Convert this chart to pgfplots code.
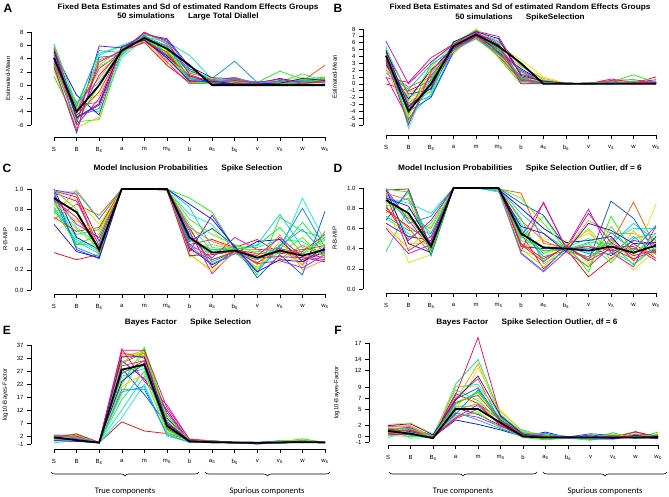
\documentclass[border=0pt]{standalone}
\usepackage{fontspec}
\setmainfont{Liberation Sans}
\newfontfamily\carlito{Carlito}
\usepackage{pgfplots}
\pgfplotsset{compat=1.18}
\usepackage{pgfplotstable}
\usetikzlibrary{decorations.pathreplacing}

% rainbow palette for the simulation runs
\definecolor{col1}{Hsb}{0,0.95,0.95}
\definecolor{col2}{Hsb}{20,0.95,0.95}
\definecolor{col3}{Hsb}{40,0.95,0.95}
\definecolor{col4}{Hsb}{55,0.95,0.95}
\definecolor{col5}{Hsb}{70,0.95,0.95}
\definecolor{col6}{Hsb}{90,0.95,0.95}
\definecolor{col7}{Hsb}{115,0.95,0.95}
\definecolor{col8}{Hsb}{140,0.95,0.95}
\definecolor{col9}{Hsb}{160,0.95,0.95}
\definecolor{col10}{Hsb}{175,0.95,0.95}
\definecolor{col11}{Hsb}{190,0.95,0.95}
\definecolor{col12}{Hsb}{205,0.95,0.95}
\definecolor{col13}{Hsb}{220,0.95,0.95}
\definecolor{col14}{Hsb}{240,0.95,0.95}
\definecolor{col15}{Hsb}{265,0.95,0.95}
\definecolor{col16}{Hsb}{290,0.95,0.95}
\definecolor{col17}{Hsb}{315,0.95,0.95}
\definecolor{col18}{Hsb}{340,0.95,0.95}
\definecolor{col19}{Hsb}{10,0.95,0.95}
\definecolor{col20}{Hsb}{30,0.95,0.95}
\definecolor{col21}{Hsb}{48,0.95,0.95}
\definecolor{col22}{Hsb}{100,0.95,0.95}
\definecolor{col23}{Hsb}{128,0.95,0.95}
\definecolor{col24}{Hsb}{198,0.95,0.95}
\definecolor{col25}{Hsb}{250,0.95,0.95}
\definecolor{col26}{Hsb}{328,0.95,0.95}

\pgfplotstableread{
x c1 c2 c3 c4 c5 c6 c7 c8 c9 c10 c11 c12 c13 c14 c15 c16 c17 c18 mean c19 c20 c21 c22 c23 c24 c25 c26
0  5.3 4.5 3.0 2.5 3.5 4.0 1.3 6.2 4.8 5.5 3.8 4.2 2.8 5.0 3.3 5.8 4.6 5.6 4.1 3.6 4.9 2.2 5.9 3.1 4.4 5.1 2.7
1  -5.0 -3.2 -2.8 -3.5 -2.5 -4.2 -5.5 -3.0 -4.5 -3.8 -2.6 -4.8 -7.2 -1.5 -5.8 -4.0 -6.0 -5.2 -4.0 -4.6 -3.9 -6.4 -2.9 -5.4 -3.3 -4.9 -6.8
2  -3.0 -2.5 1.0 2.0 -1.5 3.0 -5.2 4.8 4.5 -4.0 0.5 -3.5 4.2 -4.5 5.9 2.5 -2.0 1.5 0.0 -1.0 3.8 -4.8 2.8 0.0 5.2 -2.8 3.5
3  5.0 5.4 5.6 4.8 5.2 5.5 4.9 5.8 6.0 4.2 5.3 5.1 4.5 5.7 5.6 5.0 5.4 5.2 5.2 5.3 5.0 5.7 4.6 5.5 4.9 5.8 5.2
4  6.5 6.6 7.0 7.2 6.8 7.4 7.6 7.0 7.3 6.9 7.5 7.1 7.8 6.7 7.6 8.0 7.2 6.4 7.1 6.9 7.3 6.6 7.7 7.0 7.4 6.8 7.9
5  3.0 4.2 3.8 4.5 5.0 5.2 4.8 6.0 6.5 5.5 4.0 5.8 6.8 4.4 7.0 6.2 3.5 5.0 5.5 4.6 5.4 3.3 6.4 4.9 5.9 4.1 6.6
6  0.4 0.8 1.2 0.6 1.5 0.9 0.3 1.0 4.5 2.0 1.1 1.8 2.5 1.4 2.8 2.2 0.2 0.7 3.0 1.3 0.5 1.9 0.3 2.4 1.0 0.6 1.6
7  1.0 0.6 0.4 0.8 0.3 0.5 0.2 0.7 0.9 1.2 0.4 1.0 0.6 0.3 1.1 0.8 0.5 0.9 0.0 0.7 0.3 1.0 0.5 0.8 0.2 0.6 0.4
8  0.6 1.2 0.5 0.3 0.4 0.2 0.6 0.3 0.5 0.4 0.7 3.6 0.8 0.2 1.0 0.6 0.9 0.4 0.0 0.4 0.8 0.3 0.6 0.5 1.1 0.2 0.7
9  0.3 0.2 0.4 0.5 0.3 0.1 0.4 0.2 0.3 0.5 0.2 0.4 0.5 0.3 0.2 0.4 0.3 0.2 0.0 0.2 0.4 0.3 0.1 0.5 0.3 0.2 0.4
10 0.4 0.5 0.3 0.6 0.2 0.4 2.1 0.5 0.3 0.2 0.6 0.4 0.3 1.0 0.7 0.5 0.4 0.3 0.0 0.5 0.3 0.8 0.4 0.2 0.6 0.3 0.9
11 0.3 0.6 0.8 1.2 0.4 0.5 0.9 1.7 0.4 0.3 0.6 0.2 0.5 0.4 0.3 0.6 0.8 0.5 0.0 0.6 0.4 0.3 0.9 0.5 0.7 1.0 0.3
12 0.8 3.0 0.5 0.4 0.3 0.7 1.2 0.6 1.0 0.4 0.3 0.5 0.6 0.4 0.8 0.5 0.7 0.9 0.0 0.5 0.9 0.4 0.6 1.1 0.3 0.7 0.5
}\tabA

\pgfplotstableread{
x c1 c2 c3 c4 c5 c6 c7 c8 c9 c10 c11 c12 c13 c14 c15 c16 c17 c18 mean c19 c20 c21 c22 c23 c24 c25 c26
0  0.0 2.0 2.5 3.0 4.0 3.5 4.5 5.0 3.8 5.5 4.8 4.2 3.2 2.8 4.6 6.2 1.0 0.9 4.1 3.3 4.4 2.2 5.2 3.9 1.6 4.9 3.6
1  -1.0 -0.5 -1.2 -2.0 -3.0 -2.5 -4.5 -3.5 -5.0 -6.5 -5.8 -3.0 -4.0 -2.2 -1.5 0.0 -5.2 0.2 -4.0 -3.6 -2.8 -4.8 -1.8 -5.5 -0.8 -3.3 -6.0
2  0.5 1.0 -0.2 0.0 -0.5 2.5 3.0 -1.0 -1.5 1.5 0.8 -1.8 -2.0 2.0 -0.8 3.2 0.2 3.8 0.0 1.2 -0.3 2.2 -1.2 0.6 2.8 -0.6 1.8
3  5.5 4.8 5.2 4.3 5.0 5.6 6.0 6.2 5.8 5.4 5.9 4.9 4.6 5.3 5.1 5.7 5.5 5.8 5.5 5.2 5.6 4.7 5.9 5.4 5.0 6.1 5.3
4  7.2 6.8 7.0 8.0 6.5 7.5 7.8 6.9 7.3 7.1 7.6 6.7 7.0 7.4 6.9 7.3 7.5 7.7 7.2 7.0 7.4 6.7 7.9 7.2 6.6 7.6 7.1
5  4.0 4.5 5.0 5.5 4.2 4.8 3.8 5.2 6.0 6.5 5.6 4.4 5.0 4.6 5.3 6.2 5.8 6.9 5.5 4.7 5.4 3.9 6.1 5.1 4.3 6.6 5.7
6  0.5 1.0 2.5 3.5 1.2 0.3 0.0 0.8 0.1 1.5 0.4 2.0 1.0 2.2 1.8 2.8 0.6 1.4 3.0 0.7 1.8 0.2 2.6 0.9 0.4 1.2 0.0
7  0.2 0.5 0.8 1.0 0.3 0.1 0.0 0.2 0.0 0.4 0.1 0.2 0.0 0.3 0.1 0.2 0.3 0.4 0.0 0.1 0.3 0.0 0.6 0.2 0.0 0.4 0.1
8  0.0 0.1 0.0 0.1 0.0 0.0 0.0 0.1 0.0 0.0 0.1 0.0 0.0 0.0 0.1 0.0 0.0 0.1 0.0 0.0 0.1 0.0 0.0 0.1 0.0 0.1 0.0
9  0.0 0.0 0.1 0.0 0.0 0.1 0.0 0.0 0.0 0.1 0.0 0.0 0.1 0.0 0.0 0.0 0.1 0.0 0.0 0.1 0.0 0.0 0.1 0.0 0.0 0.0 0.1
10 0.4 0.1 0.2 0.0 0.1 0.0 0.3 0.1 0.0 0.2 0.0 0.1 0.0 0.2 0.1 0.3 0.5 0.7 0.0 0.2 0.0 0.1 0.3 0.0 0.2 0.1 0.0
11 0.1 0.2 0.0 0.1 0.3 0.2 1.3 0.4 0.1 0.0 0.2 0.3 0.0 0.1 0.2 0.0 0.6 0.2 0.0 0.0 0.3 0.1 0.2 0.4 0.1 0.0 0.2
12 1.0 0.2 0.1 0.0 0.1 0.3 0.2 0.0 0.1 0.2 0.0 0.1 0.0 0.3 0.1 0.0 0.2 0.6 0.0 0.1 0.0 0.3 0.2 0.0 0.4 0.1 0.2
}\tabB

\pgfplotstableread{
x c1 c2 c3 c4 c5 c6 c7 c8 c9 c10 c11 c12 c13 c14 c15 c16 c17 c18 mean c19 c20 c21 c22 c23 c24 c25 c26
0  0.37 0.70 0.75 0.80 0.58 0.85 0.88 0.78 0.92 0.95 0.82 0.90 0.97 1.00 0.99 0.96 0.93 0.98 0.91 0.72 0.95 0.86 0.99 0.80 0.97 0.65 0.89
1  0.30 0.85 0.99 0.90 0.70 0.60 0.45 0.55 0.50 0.62 0.48 0.42 0.40 0.52 0.95 0.88 0.65 0.92 0.77 0.58 0.95 0.68 0.80 0.45 0.97 0.38 0.72
2  0.35 0.74 0.70 0.65 0.50 0.42 0.55 0.60 0.38 0.45 0.36 0.33 0.31 0.40 0.48 0.44 0.52 0.37 0.40 0.62 0.39 0.58 0.34 0.46 0.70 0.32 0.42
3  1 1 1 1 1 1 1 1 1 1 1 1 1 1 1 1 1 1 1 1 1 1 1 1 1 1 1
4  1 1 1 1 1 1 1 1 1 1 1 1 1 1 1 1 1 1 1 1 1 1 1 1 1 1 1
5  0.99 1 1 1 0.99 1 1 1 1 0.99 1 1 1 1 1 1 0.99 1 1 1 1 0.99 1 1 1 1 0.99
6  0.45 0.50 0.40 0.55 0.35 0.33 0.91 0.60 0.65 0.75 0.82 0.55 0.48 0.42 0.38 0.58 0.45 0.62 0.52 0.40 0.62 0.36 0.70 0.50 0.44 0.85 0.34
7  0.50 0.35 0.45 0.60 0.20 0.40 0.77 0.30 0.38 0.65 0.42 0.28 0.61 0.25 0.74 0.16 0.32 0.22 0.37 0.30 0.48 0.18 0.55 0.40 0.26 0.70 0.35
8  0.42 0.38 0.40 0.36 0.45 0.39 0.41 0.37 0.43 0.39 0.40 0.38 0.44 0.36 0.41 0.39 0.52 0.40 0.39 0.38 0.41 0.37 0.45 0.40 0.36 0.43 0.39
9  0.50 0.30 0.25 0.35 0.28 0.20 0.15 0.38 0.42 0.22 0.45 0.18 0.12 0.48 0.32 0.26 0.40 0.36 0.32 0.27 0.40 0.22 0.36 0.44 0.30 0.18 0.34
10 0.36 0.42 0.55 0.30 0.27 0.45 0.72 0.40 0.50 0.38 0.75 0.43 0.35 0.50 0.33 0.29 0.41 0.37 0.39 0.40 0.31 0.48 0.36 0.62 0.44 0.30 0.52
11 0.38 0.25 0.20 0.30 0.45 0.35 0.58 0.67 0.48 0.91 0.42 0.81 0.15 0.28 0.32 0.22 0.36 0.40 0.34 0.30 0.44 0.24 0.52 0.36 0.60 0.28 0.33
12 0.55 0.58 0.30 0.45 0.35 0.50 0.52 0.40 0.33 0.48 0.36 0.42 0.78 0.38 0.28 0.35 0.32 0.44 0.40 0.38 0.34 0.46 0.31 0.52 0.36 0.42 0.30
}\tabC

\pgfplotstableread{
x c1 c2 c3 c4 c5 c6 c7 c8 c9 c10 c11 c12 c13 c14 c15 c16 c17 c18 mean c19 c20 c21 c22 c23 c24 c25 c26
0  0.98 0.80 0.75 0.92 0.85 0.70 0.88 0.37 0.95 0.90 0.82 0.97 0.68 0.99 0.65 0.60 0.99 0.93 0.88 0.78 0.95 0.62 0.86 0.99 0.72 0.90 0.82
1  0.99 0.60 0.95 0.45 0.26 0.55 0.70 0.80 0.50 0.85 0.90 0.65 0.98 0.45 0.52 0.35 0.68 0.38 0.75 0.62 0.88 0.40 0.72 0.96 0.58 0.82 0.48
2  0.40 0.35 0.38 0.45 0.34 0.42 0.60 0.55 0.65 0.75 0.50 0.72 0.33 0.36 0.48 0.44 0.40 0.52 0.42 0.46 0.38 0.62 0.40 0.35 0.55 0.44 0.68
3  1 1 1 1 1 1 1 1 1 1 1 1 1 1 1 1 1 1 1 1 1 1 1 1 1 1 1
4  1 1 1 1 1 1 1 1 1 1 1 1 1 1 1 1 1 1 1 1 1 1 1 1 1 1 1
5  1 0.99 1 1 1 0.98 1 1 1 0.96 1 1 1 0.99 1 1 1 1 1 1 1 0.99 1 1 0.97 1 1
6  0.55 0.95 0.45 0.40 0.38 0.50 0.60 0.70 0.48 0.65 0.75 0.58 0.85 0.80 0.42 0.52 0.35 0.37 0.55 0.45 0.68 0.40 0.90 0.52 0.36 0.62 0.44
7  0.20 0.45 0.38 0.50 0.30 0.72 0.35 0.25 0.42 0.28 0.55 0.32 0.73 0.60 0.40 0.85 0.17 0.86 0.41 0.30 0.48 0.22 0.65 0.38 0.18 0.55 0.27
8  0.40 0.42 0.38 0.45 0.48 0.39 0.44 0.37 0.41 0.43 0.40 0.38 0.42 0.46 0.39 0.41 0.37 0.40 0.40 0.41 0.38 0.44 0.40 0.39 0.42 0.37 0.43
9  0.12 0.30 0.68 0.55 0.25 0.60 0.17 0.45 0.50 0.35 0.40 0.32 0.28 0.48 0.42 0.79 0.22 0.75 0.38 0.42 0.30 0.58 0.22 0.46 0.35 0.65 0.28
10 0.30 0.45 0.55 0.40 0.50 0.35 0.72 0.26 0.38 0.48 0.44 0.56 0.87 0.52 0.33 0.36 0.42 0.46 0.42 0.38 0.50 0.28 0.62 0.45 0.35 0.58 0.40
11 0.45 0.86 0.55 0.19 0.30 0.40 0.35 0.50 0.25 0.60 0.65 0.38 0.70 0.28 0.48 0.22 0.42 0.33 0.36 0.40 0.28 0.58 0.34 0.24 0.52 0.45 0.30
12 0.30 0.40 0.45 0.38 0.84 0.35 0.50 0.55 0.42 0.60 0.48 0.63 0.36 0.52 0.44 0.62 0.28 0.39 0.43 0.36 0.48 0.30 0.55 0.42 0.34 0.46 0.38
}\tabD

\pgfplotstableread{
x c1 c2 c3 c4 c5 c6 c7 c8 c9 c10 c11 c12 c13 c14 c15 c16 c17 c18 mean c19 c20 c21 c22 c23 c24 c25 c26
0  2.0 2.5 1.8 2.2 1.5 1.0 0.5 1.2 0.8 -0.5 1.6 0.2 1.4 2.0 1.1 0.9 2.4 1.7 1.5 1.3 2.1 0.6 1.9 1.0 2.3 0.3 1.6
1  1.0 2.0 3.0 2.5 1.5 0.5 0.3 0.0 0.8 0.2 1.2 0.4 0.6 0.1 0.9 1.0 2.2 1.8 0.5 0.7 1.6 0.2 2.4 0.9 1.3 0.0 2.8
2  -0.5 -0.4 -0.6 -0.3 -0.5 -0.4 -0.6 -0.5 -0.3 -0.5 -0.4 -0.6 -0.5 -0.4 -0.5 -0.3 -0.6 -0.5 -0.5 -0.4 -0.5 -0.3 -0.6 -0.5 -0.4 -0.5 -0.3
3  7.5 30 32 33 24 18 22 16 12 9 25 20 28 23 31 26 35.5 34 27.5 29 33.5 21 30.5 26.5 19 32.5 35
4  4.0 34 35 33 30 35.5 36 27 25 22 28 20 18 30 24 31 23 32 29.5 31 33.5 26 34.5 29 21 32.5 35
5  3.0 5.0 7.0 6.0 4.0 8.0 10 5.5 3.5 2.0 4.5 3.0 6.5 9 12 7.5 14 11 6.0 5.0 6.5 3.0 8.5 4.5 2.5 7.0 13
6  0.5 0.3 1.0 0.8 0.2 -0.5 0.0 -0.3 0.4 -0.2 0.1 -0.4 0.6 0.2 -0.1 0.3 0.7 0.0 0.0 0.2 0.4 -0.2 0.6 0.0 -0.3 0.3 0.8
7  -0.3 0.0 0.2 -0.5 0.3 -0.2 0.1 -0.4 0.0 -0.6 0.2 -0.1 0.3 -0.3 0.0 -0.2 0.1 -0.5 -0.3 -0.1 0.1 -0.4 0.2 -0.2 0.0 -0.3 0.1
8  -0.6 -0.4 -0.5 -0.3 -0.6 -0.5 -0.4 -0.7 -0.3 -0.5 -0.6 -0.4 -0.5 -0.3 -0.6 -0.4 -0.5 -0.6 -0.4 -0.5 -0.4 -0.6 -0.3 -0.5 -0.4 -0.6 -0.5
9  -1.0 -0.6 -0.5 -0.8 -0.4 -0.7 -0.5 -0.9 -0.6 -0.4 -0.7 -0.5 -0.8 -0.6 -0.5 -0.9 -0.7 -0.6 -0.5 -0.6 -0.8 -0.5 -0.7 -0.4 -0.6 -0.9 -0.5
10 -0.5 -0.3 -0.6 -0.4 -0.2 -0.5 -0.3 -0.6 -0.4 -0.5 -0.3 0.3 -0.4 -0.5 -0.2 -0.6 -0.4 -0.5 -0.4 -0.4 -0.2 -0.5 0.2 -0.3 -0.6 -0.4 -0.3
11 -0.4 -0.2 0.0 -0.3 0.5 -0.4 1.0 0.3 -0.2 -0.5 0.2 -0.3 0.0 -0.4 -0.1 0.2 -0.3 -0.2 -0.3 -0.2 0.3 -0.4 0.6 -0.1 -0.3 0.1 -0.2
12 -0.3 -0.4 -0.2 -0.5 -0.3 -0.1 -0.4 -0.2 -0.5 0.0 -0.3 -0.4 -0.2 -0.5 -0.3 -0.2 -0.4 -0.3 -0.4 -0.4 -0.3 -0.5 -0.2 -0.4 -0.3 -0.5 -0.2
}\tabE

\pgfplotstableread{
x c1 c2 c3 c4 c5 c6 c7 c8 c9 c10 c11 c12 c13 c14 c15 c16 c17 c18 mean c19 c20 c21 c22 c23 c24 c25 c26
0  1.5 2.0 1.8 2.2 1.0 0.5 1.2 0.8 -0.2 1.6 0.3 0.9 1.4 0.6 1.1 1.9 0.4 1.3 1.0 1.2 0.7 1.7 0.2 1.5 0.9 2.0 0.5
1  1.5 1.8 2.0 2.5 1.2 0.8 0.5 0.2 1.0 -0.3 0.7 1.3 0.4 0.9 0.6 1.6 0.3 1.1 0.5 1.0 0.6 1.9 0.0 1.4 0.7 2.3 0.4
2  0.2 0.0 -0.2 0.5 -0.3 -0.1 0.1 -0.3 0.3 -0.2 0.0 -0.3 0.2 -0.1 -0.3 0.0 -0.2 0.1 -0.3 -0.1 0.2 -0.3 0.1 0.0 -0.2 0.3 -0.1
3  7.8 7.0 6.5 4.5 5.0 3.5 6.0 9.5 8.5 9.0 5.5 4.0 6.8 3.0 5.2 4.2 3.2 7.5 5.0 6.2 4.8 9.2 3.8 5.8 4.4 6.6 3.4
4  6.0 10.5 13.2 12.5 7.0 4.5 8.0 14.0 6.5 9.5 5.5 8.5 8.8 2.2 4.0 3.5 5.0 18.0 5.0 7.5 6.0 9.0 4.2 8.2 3.0 11.0 5.8
5  3.0 2.5 3.5 4.8 2.0 1.5 3.2 4.0 2.8 3.8 2.2 2.6 3.0 1.2 2.0 1.8 2.4 3.6 2.5 2.8 2.2 4.5 1.6 3.4 1.4 3.8 2.0
6  0.2 0.5 0.0 0.8 -0.1 0.3 1.0 0.6 -0.2 0.4 1.2 0.1 0.5 0.0 -0.1 0.7 0.3 0.2 0.0 0.3 0.0 0.9 -0.2 0.6 0.1 0.4 0.2
7  -0.2 0.3 -0.4 0.1 -0.5 0.0 -0.3 0.4 -0.6 0.2 -0.1 0.3 -0.2 0.8 0.5 -0.3 0.0 0.2 -0.2 0.1 -0.3 0.4 -0.4 0.2 0.6 -0.1 0.0
8  -0.2 -0.1 0.0 -0.3 -0.2 -0.1 -0.2 0.0 -0.3 -0.1 -0.2 0.0 -0.1 -0.2 -0.3 0.0 -0.1 -0.2 -0.2 -0.1 -0.2 0.0 -0.3 -0.1 -0.2 0.0 -0.1
9  -0.5 -0.2 0.0 -0.3 -0.6 -0.1 -0.4 -0.2 -0.7 0.1 -0.3 -0.5 0.5 -0.2 0.3 -0.4 -0.1 -0.3 -0.2 -0.3 0.0 -0.4 0.2 -0.5 -0.2 0.1 -0.3
10 0.0 -0.3 0.2 -0.1 0.6 -0.4 0.7 -0.2 0.1 -0.3 0.0 -0.5 0.2 -0.1 -0.2 0.3 0.0 -0.3 -0.2 0.1 -0.2 0.4 -0.3 0.0 0.2 -0.4 0.1
11 0.8 -0.2 0.0 -0.3 -0.1 0.2 -0.4 0.3 -0.2 0.0 -0.3 0.1 -0.2 0.4 -0.1 -0.3 0.2 0.9 -0.2 -0.1 0.3 -0.2 0.5 0.0 -0.3 0.2 -0.1
12 0.0 -0.2 0.1 -0.3 0.6 -0.1 0.8 0.0 -0.2 0.3 -0.1 0.0 -0.3 0.2 -0.4 -0.1 0.1 -0.2 -0.1 0.2 -0.1 0.4 -0.2 0.0 0.3 -0.3 0.1
}\tabF

\pgfplotsset{
  rplot/.style={
    scale only axis, clip=false, enlargelimits=false, no markers,
    xmin=0, xmax=12,
    axis x line*=bottom, axis y line*=left,
    axis line style={-, line width=0.5pt},
    tick align=outside, major tick length=4pt,
    every tick/.style={black, line width=0.5pt},
    xtick={0,...,12},
    xticklabels={S,B,B\textsubscript{s},a,m,m\textsubscript{s},b,a\textsubscript{s},b\textsubscript{s},v,v\textsubscript{s},w,w\textsubscript{s}},
    ticklabel style={font=\fontsize{6}{7}\selectfont},
    /pgf/number format/assume math mode=true,
    xticklabel style={yshift=-3pt},
    ylabel style={font=\fontsize{6}{7}\selectfont, anchor=center},
  },
}
\newcommand\runs[1]{%
  \pgfplotsinvokeforeach{1,...,26}{\addplot[col##1, line width=0.75pt] table[x=x, y=c##1]{#1};}
  \addplot[black, line width=1.8pt] table[x=x, y=mean]{#1};}

\begin{document}
\begin{tikzpicture}
\path[use as bounding box] (0,0) rectangle (669pt,497pt);

% A
\begin{axis}[rplot, at={(54pt,372pt)}, anchor=south west, width=271pt, height=93pt,
  ymin=-6, ymax=8, ytick={-6,-4,...,8},
  axis x line shift=12pt, axis y line shift=23pt,
  ylabel={Estimated-Mean}, ylabel style={at={(axis description cs:-0.17,0.5)}}]
\runs{\tabA}
\end{axis}
% B
\begin{axis}[rplot, at={(386pt,372pt)}, anchor=south west, width=270pt, height=96pt,
  ymin=-6, ymax=8, ytick={-6,...,8},
  axis x line shift=10pt, axis y line shift=23pt,
  ylabel={Estimated-Mean}, ylabel style={at={(axis description cs:-0.19,0.5)}}]
\runs{\tabB}
\end{axis}
% C
\begin{axis}[rplot, at={(54pt,207pt)}, anchor=south west, width=271pt, height=101pt,
  ymin=0, ymax=1, ytick={0,0.2,...,1.0},
  yticklabel style={/pgf/number format/.cd, fixed, fixed zerofill, precision=1},
  axis x line shift=4pt, axis y line shift=23pt,
  ylabel={R-B-MIP}, ylabel style={at={(axis description cs:-0.18,0.5)}}]
\runs{\tabC}
\end{axis}
% D
\begin{axis}[rplot, at={(386pt,208pt)}, anchor=south west, width=270pt, height=101pt,
  ymin=0, ymax=1, ytick={0,0.2,...,1.0},
  yticklabel style={/pgf/number format/.cd, fixed, fixed zerofill, precision=1},
  axis x line shift=4pt, axis y line shift=23pt,
  ylabel={R-B-MIP}, ylabel style={at={(axis description cs:-0.19,0.5)}}]
\runs{\tabD}
\end{axis}
% E
\begin{axis}[rplot, at={(54pt,53pt)}, anchor=south west, width=271pt, height=99pt,
  ymin=-1, ymax=37, ytick={-1,2,7,12,17,22,27,32,37},
  axis x line shift=5pt, axis y line shift=23pt,
  ylabel={log10-Bayes-Factor}, ylabel style={at={(axis description cs:-0.18,0.5)}}]
\runs{\tabE}
\end{axis}
% F
\begin{axis}[rplot, at={(388pt,55pt)}, anchor=south west, width=270pt, height=99pt,
  ymin=-1, ymax=17, ytick={-1,0,2,5,7,9,12,14,17},
  axis x line shift=3pt, axis y line shift=19pt,
  ylabel={log10-Bayes-Factor}, ylabel style={at={(axis description cs:-0.19,0.5)}}]
\runs{\tabF}
\end{axis}

% titles
\begin{scope}[every node/.style={font=\fontsize{7.8}{9}\selectfont\bfseries, xscale=1.06}]
\node at (188pt,490pt) {Fixed Beta Estimates and Sd of estimated Random Effects Groups};
\node at (188pt,480pt) {50 simulations\hspace{1.6em}Large Total Diallel};
\node at (520pt,490pt) {Fixed Beta Estimates and Sd of estimated Random Effects Groups};
\node at (520pt,480pt) {50 simulations\hspace{1.6em}SpikeSelection};
\node at (188pt,329pt) {Model Inclusion Probabilities\hspace{1.6em}Spike Selection};
\node at (520pt,329pt) {Model Inclusion Probabilities\hspace{1.6em}Spike Selection Outlier, df = 6};
\node at (188pt,175pt) {Bayes Factor\hspace{1.6em}Spike Selection};
\node at (527pt,175pt) {Bayes Factor\hspace{1.6em}Spike Selection Outlier, df = 6};
\end{scope}
% panel letters
\begin{scope}[font=\fontsize{12}{14}\selectfont\bfseries]
\node at (8pt,489pt) {A};
\node at (338pt,489pt) {B};
\node at (7pt,329pt) {C};
\node at (338pt,329pt) {D};
\node at (7pt,167pt) {E};
\node at (338pt,167pt) {F};
\end{scope}
% component braces
\begin{scope}[line width=0.6pt, decoration={brace, mirror, amplitude=4pt}]
\draw[decorate] (51pt,25pt) -- (199pt,25pt);
\draw[decorate] (205pt,25pt) -- (330pt,25pt);
\draw[decorate] (389pt,25pt) -- (537pt,25pt);
\draw[decorate] (543pt,25pt) -- (667pt,25pt);
\end{scope}
\begin{scope}[font=\carlito\fontsize{8.5}{10}\selectfont]
\node at (125pt,6pt) {True components};
\node at (267pt,6pt) {Spurious components};
\node at (463pt,6pt) {True components};
\node at (605pt,6pt) {Spurious components};
\end{scope}
\end{tikzpicture}
\end{document}
